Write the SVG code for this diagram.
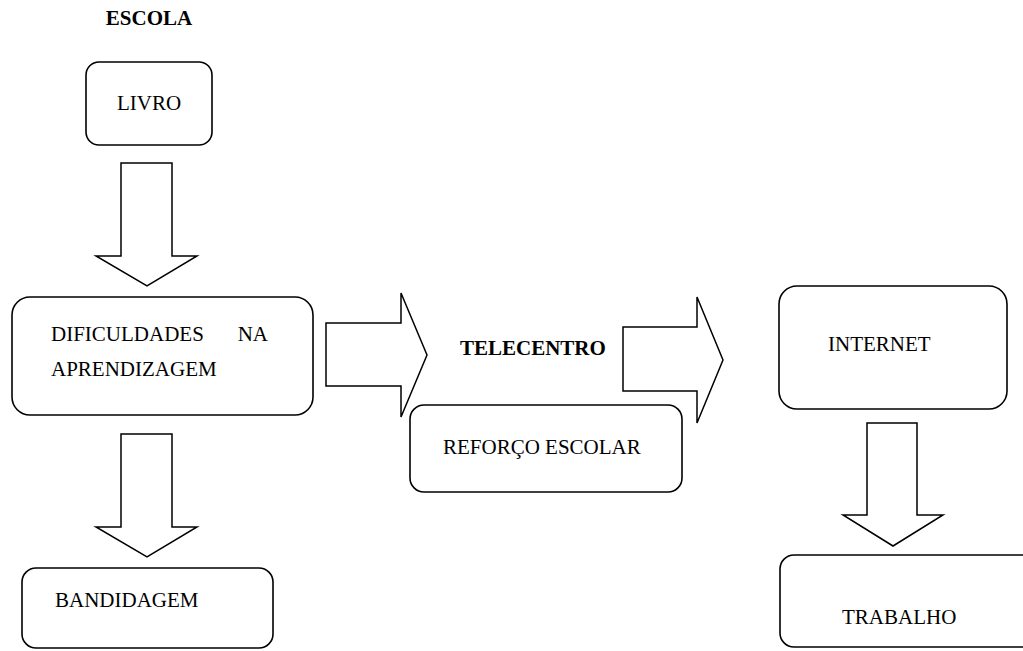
<svg xmlns="http://www.w3.org/2000/svg" width="1023" height="651" viewBox="0 0 1023 651">
<style>
.box{fill:#fff;stroke:#000;stroke-width:1.6}
.arr{fill:#fff;stroke:#000;stroke-width:1.5;stroke-linejoin:miter}
.t{font-family:"Liberation Serif","Times New Roman",serif;font-size:21px;fill:#000}
.b{font-weight:bold}
</style>
<rect width="1023" height="651" fill="#fff"/>
<text id="escola" class="t b" x="149" y="25" text-anchor="middle">ESCOLA</text>
<g id="connectors">
<polygon class="arr" points="121,163 172,163 172,256 197,256 147,286 96,256 121,256"/>
<polygon class="arr" points="121,434 172,434 172,527 197,527 147,557 96,527 121,527"/>
<polygon class="arr" points="326,323 401,323 401,293 427,355 401,417 401,386 326,386"/>
<polygon class="arr" points="623,327 697,327 697,297 723,360 697,423 697,391 623,391"/>
<polygon class="arr" points="867,423 917,423 917,515 943,515 893,546 843,515 867,515"/>
</g>
<g id="livro">
<rect class="box" x="86" y="62" width="126" height="83" rx="13"/>
<text class="t" x="149" y="110" text-anchor="middle">LIVRO</text>
</g>
<g id="dificuldades">
<rect class="box" x="12" y="297" width="301" height="118" rx="18"/>
<text class="t" x="51" y="341">DIFICULDADES</text>
<text class="t" x="268" y="341" text-anchor="end">NA</text>
<text class="t" x="51" y="376">APRENDIZAGEM</text>
</g>
<g id="bandidagem">
<rect class="box" x="22" y="568" width="251" height="80" rx="14"/>
<text class="t" x="55" y="607">BANDIDAGEM</text>
</g>
<g id="telecentro">
<text class="t b" x="460" y="355">TELECENTRO</text>
</g>
<g id="reforco">
<rect class="box" x="410" y="405" width="272" height="87" rx="14"/>
<text class="t" x="443" y="454">REFORÇO ESCOLAR</text>
</g>
<g id="internet">
<rect class="box" x="779" y="286" width="228" height="123" rx="18"/>
<text class="t" x="828" y="351">INTERNET</text>
</g>
<g id="trabalho">
<rect class="box" x="780" y="555" width="260" height="92" rx="14"/>
<text class="t" x="842" y="624">TRABALHO</text>
</g>
</svg>
